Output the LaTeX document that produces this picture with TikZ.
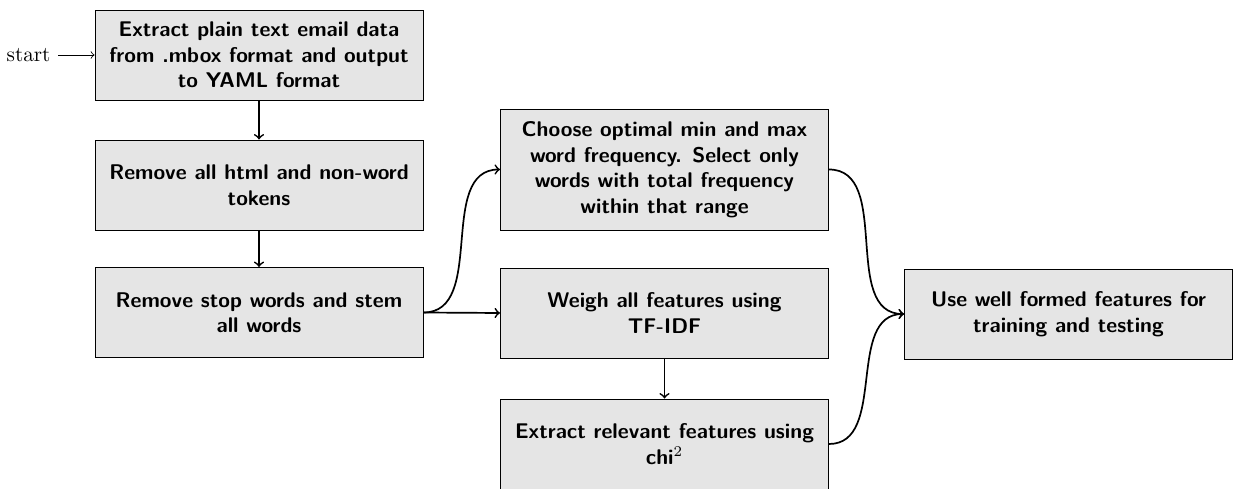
\documentclass[tikz,border=0pt]{standalone}
\begin{document}
\begin{tikzpicture}[x=0.4706pt,y=-0.4706pt,
  box/.style={draw, fill=black!10, minimum width=154.4pt, minimum height=42.4pt,
    align=center, font=\sffamily\bfseries, inner sep=0pt},
  conn/.style={->, thick}]
\useasboundingbox (0,0) rectangle (1233,489);
\node[box] (b1) at (259,55) {Extract plain text email data\\from .mbox format and output\\to YAML format};
\node[box] (b2) at (259,185) {Remove all html and non-word\\tokens};
\node[box] (b3) at (259,312.5) {Remove stop words and stem\\all words};
\node[box, minimum height=57pt] (choose) at (664.5,169.5) {Choose optimal min and max\\word frequency. Select only\\words with total frequency\\within that range};
\node[box] (weigh) at (664.5,313) {Weigh all features using\\TF-IDF};
\node[box] (chi) at (664.5,444) {Extract relevant features using\\chi$^2$};
\node[box] (use) at (1068.5,314) {Use well formed features for\\training and testing};
\node[anchor=east] (start) at (58,55) {start};
\draw[->] (start) -- (b1);
\draw[conn] (b1) -- (b2);
\draw[conn] (b2) -- (b3);
\draw[conn] (b3.east) -- (weigh.west);
\draw[conn] (b3.east) to[out=0,in=180] (choose.west);
\draw[conn] (weigh) -- (chi);
\draw[conn] (choose.east) to[out=0,in=180] (use.west);
\draw[conn] (chi.east) to[out=0,in=180] (use.west);
\end{tikzpicture}
\end{document}
